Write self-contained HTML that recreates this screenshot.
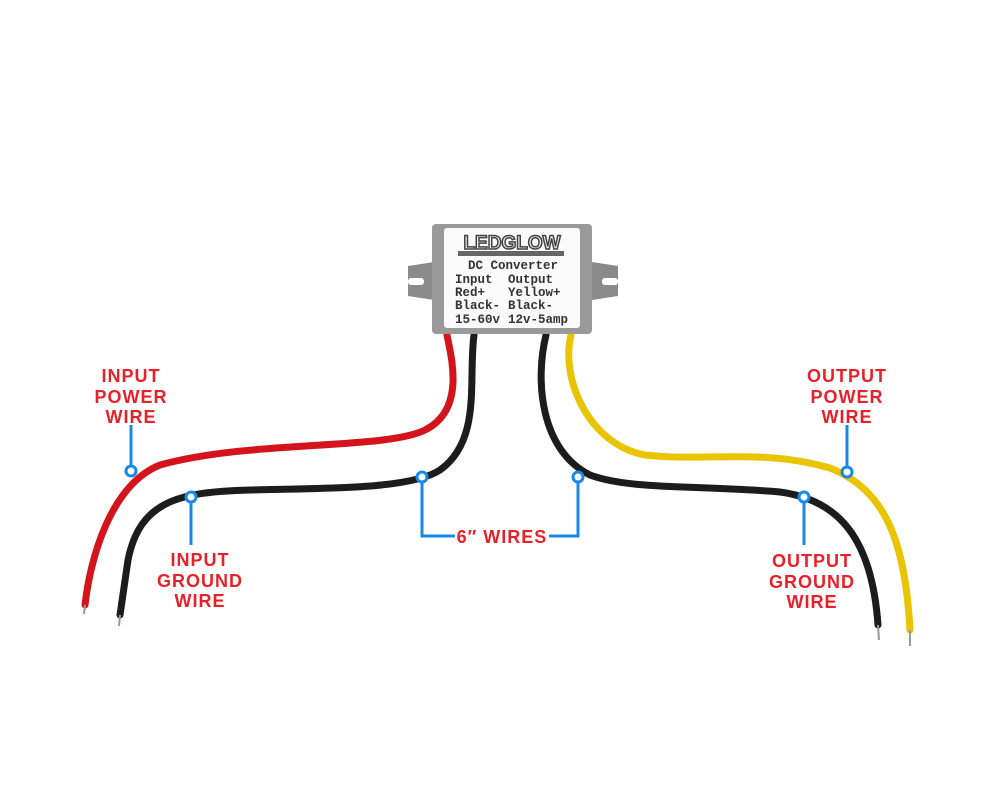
<!DOCTYPE html>
<html><head><meta charset="utf-8"><style>
body{margin:0;background:#fff}
svg{display:block}
.l{font-family:"Liberation Sans",sans-serif;font-weight:bold;font-size:18px;fill:#e8202a;text-anchor:middle;letter-spacing:1px}
.m{font-family:"Liberation Mono",monospace;font-weight:bold;font-size:12.5px;fill:#333}
</style></head><body>
<svg width="1000" height="806" viewBox="0 0 1000 806">
<!-- wires -->
<g fill="none" stroke-linecap="round">
<path d="M447,335 C452,360 465,410 425,430 C385,450 250,440 160,465 C110,485 90,560 85,605" stroke="#d4141c" stroke-width="7"/>
<path d="M474,335 C468,380 482,440 440,470 C410,490 320,488 250,490 C180,492 140,500 128,560 L120,615" stroke="#1c1c1c" stroke-width="7"/>
<path d="M546,335 C535,380 540,450 590,475 C630,490 700,485 780,492 C840,500 872,540 878,625" stroke="#1c1c1c" stroke-width="7"/>
<path d="M571,335 C560,380 590,445 645,455 C705,462 760,448 830,468 C885,490 905,540 910,630" stroke="#e8c500" stroke-width="7"/>
</g>
<g stroke="#999" stroke-width="2">
<line x1="85" y1="605" x2="84" y2="614"/><line x1="120" y1="615" x2="119" y2="626"/>
<line x1="878" y1="625" x2="879" y2="640"/><line x1="910" y1="630" x2="910" y2="646"/>
</g>
<!-- converter -->
<path d="M408,266 L434,262 L434,300 L408,296 Z M410,279 h16 v6 h-16z" fill="#8a8a8a"/>
<path d="M618,266 L592,262 L592,300 L618,296 Z" fill="#8a8a8a"/>
<rect x="408" y="278" width="16" height="7" fill="#fff" rx="3"/>
<rect x="602" y="278" width="16" height="7" fill="#fff" rx="3"/>
<rect x="432" y="224" width="160" height="110" rx="4" fill="#9a9a9a"/>
<rect x="444" y="228" width="136" height="100" rx="3" fill="#fafafa"/>
<text x="512" y="249" font-family="Liberation Sans,sans-serif" font-weight="bold" font-size="19" fill="#eee" stroke="#444" stroke-width="1.5" text-anchor="middle">LEDGLOW</text>
<rect x="458" y="251" width="106" height="5" fill="#666"/>
<text class="m" x="468" y="269">DC Converter</text>
<text class="m" x="455" y="283">Input</text><text class="m" x="508" y="283">Output</text>
<text class="m" x="455" y="296">Red+</text><text class="m" x="508" y="296">Yellow+</text>
<text class="m" x="455" y="309">Black-</text><text class="m" x="508" y="309">Black-</text>
<text class="m" x="455" y="323">15-60v</text><text class="m" x="508" y="323">12v-5amp</text>
<!-- callouts -->
<g stroke="#1a88e8" stroke-width="3" fill="none">
<line x1="131" y1="425" x2="131" y2="466"/><circle cx="131" cy="471" r="5" fill="#fff"/>
<line x1="191" y1="502" x2="191" y2="545"/><circle cx="191" cy="497" r="5" fill="#fff"/>
<polyline points="422,482 422,536 455,536"/><circle cx="422" cy="477" r="5" fill="#fff"/>
<polyline points="578,482 578,536 549,536"/><circle cx="578" cy="477" r="5" fill="#fff"/>
<line x1="804" y1="502" x2="804" y2="545"/><circle cx="804" cy="497" r="5" fill="#fff"/>
<line x1="847" y1="425" x2="847" y2="467"/><circle cx="847" cy="472" r="5" fill="#fff"/>
</g>
<text class="l" x="131" y="382">INPUT</text><text class="l" x="131" y="403">POWER</text><text class="l" x="131" y="423">WIRE</text>
<text class="l" x="200" y="566">INPUT</text><text class="l" x="200" y="587">GROUND</text><text class="l" x="200" y="607">WIRE</text>
<text class="l" x="502" y="543">6″ WIRES</text>
<text class="l" x="812" y="567">OUTPUT</text><text class="l" x="812" y="588">GROUND</text><text class="l" x="812" y="608">WIRE</text>
<text class="l" x="847" y="382">OUTPUT</text><text class="l" x="847" y="403">POWER</text><text class="l" x="847" y="423">WIRE</text>
</svg>
</body></html>
